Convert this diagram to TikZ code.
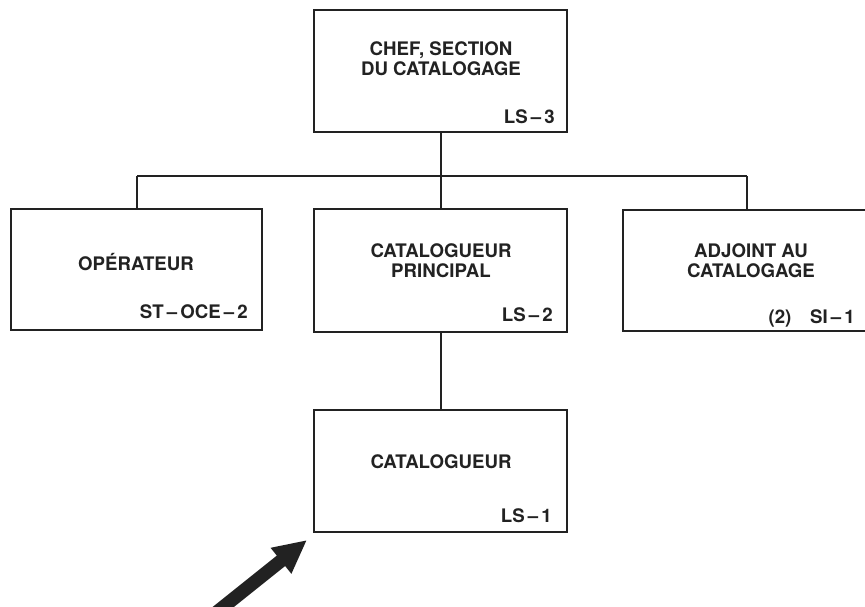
\documentclass[tikz,border=0pt]{standalone}
\usepackage{fontspec}
\setmainfont{TeX Gyre Heros}
\usetikzlibrary{arrows.meta}
\definecolor{ink}{HTML}{222222}
\newcommand{\orgfont}{\fontsize{14pt}{15pt}\selectfont\bfseries}
\tikzset{
  box/.style={draw=ink, line width=1.5pt, inner sep=0pt, rectangle},
  title/.style={font=\orgfont, text=ink, align=center, inner sep=0pt},
  grade/.style={font=\orgfont, text=ink, anchor=east, inner sep=0pt},
  link/.style={draw=ink, line width=1.5pt},
  pointer/.style={draw=ink, line width=10pt, -{Triangle[length=25pt,width=23pt]}}
}
\begin{document}
\begin{tikzpicture}[x=0.75pt,y=-0.75pt]
  \useasboundingbox (0,0) rectangle (865,607);
  \clip (0,0) rectangle (865,607);
  \fill[white] (0,0) rectangle (865,607);

  % boxes
  \node[box] (chef) at (440.5,71) [minimum width=253*0.75pt, minimum height=122*0.75pt] {};
  \node[box] (oper) at (136.5,269.5) [minimum width=251*0.75pt, minimum height=121*0.75pt] {};
  \node[box] (princ) at (440.5,270.5) [minimum width=253*0.75pt, minimum height=123*0.75pt] {};
  \node[box] (adj) at (751.5,270.5) [minimum width=257*0.75pt, minimum height=121*0.75pt] {};
  \node[box] (cat) at (440.5,471) [minimum width=253*0.75pt, minimum height=122*0.75pt] {};

  % titles
  \node[title] (tchef) at (441,59) {CHEF, SECTION\\DU CATALOGAGE};
  \node[title] (toper) at (136,262) {OPÉRATEUR};
  \node[title] (tprinc) at (441,261) {CATALOGUEUR\\PRINCIPAL};
  \node[title] (tadj) at (751,261) {ADJOINT AU\\CATALOGAGE};
  \node[title] (tcat) at (441,462) {CATALOGUEUR};

  % grades
  \node[grade] (gchef) at (555,117) {LS\,–\,3};
  \node[grade] (goper) at (248,312) {ST\,–\,OCE\,–\,2};
  \node[grade] (gprinc) at (553,315) {LS\,–\,2};
  \node[grade] (gadj) at (855,318) {(2)\quad SI\,–\,1};
  \node[grade] (gcat) at (552,516) {LS\,–\,1};

  % connectors
  \coordinate (busL) at (137,176);
  \coordinate (busR) at (747,176);
  \draw[link] (chef.south) -- (chef.south |- busL);
  \draw[link] (busL) -- (busR);
  \draw[link] (busL) -- (busL |- oper.north);
  \draw[link] (busR) -- (busR |- adj.north);
  \draw[link] (chef.south |- busL) -- (princ.north);
  \draw[link] (princ.south) -- (cat.north);

  % pointer arrow
  \coordinate (ptail) at (212,616);
  \coordinate (ptip) at (307,540);
  \draw[pointer] (ptail) -- (ptip);
\end{tikzpicture}
\end{document}
